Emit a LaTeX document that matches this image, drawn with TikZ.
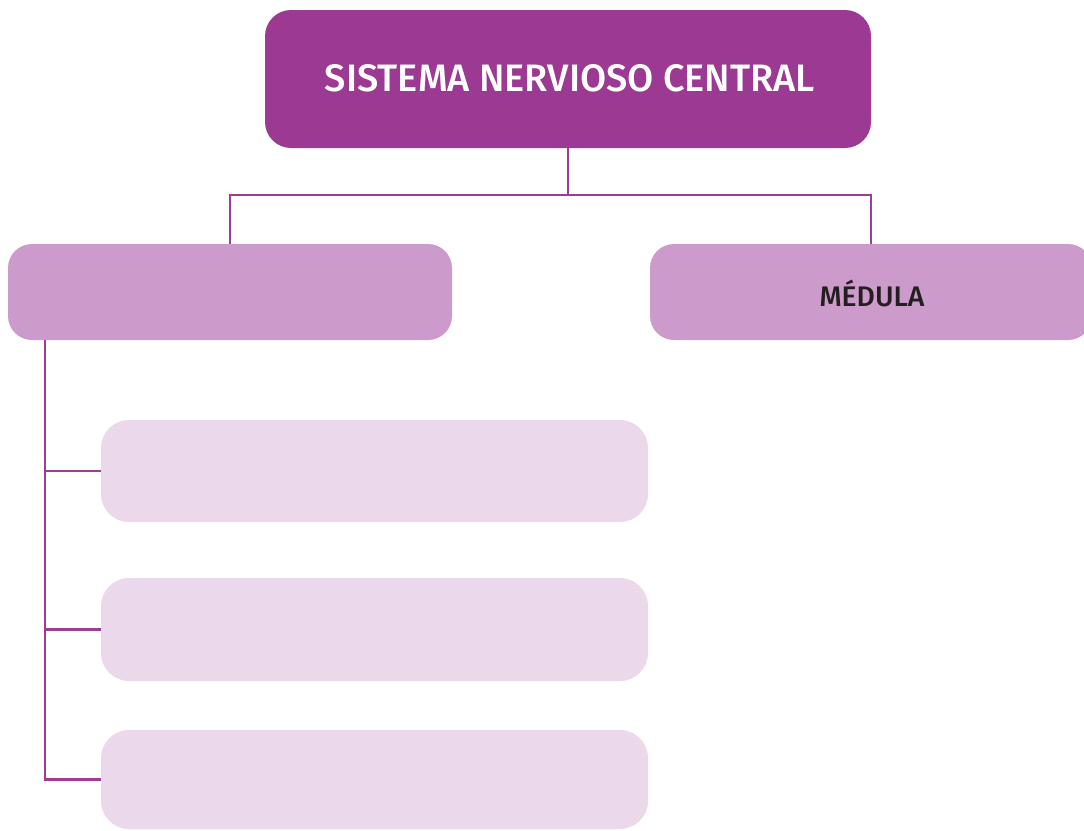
\documentclass[tikz,border=0pt]{standalone}
\usepackage{fontspec}
\setmainfont{Fira Sans}
\newfontfamily\medfont{Fira Sans Medium}
\usepackage{graphicx}
\definecolor{darkpurple}{HTML}{9C3A93}
\definecolor{midpurple}{HTML}{CC9BCB}
\definecolor{lightpurple}{HTML}{EBD9EB}
\definecolor{linepurple}{HTML}{9E3C97}
\definecolor{textdark}{HTML}{231F20}
\tikzset{
  topbox/.style={fill=darkpurple, draw=none, rounded corners=26pt, minimum width=606pt, minimum height=138pt, inner sep=0pt, text=white},
  midbox/.style={fill=midpurple, draw=none, rounded corners=24pt, minimum height=96pt, inner sep=0pt, text=textdark},
  lightbox/.style={fill=lightpurple, draw=none, rounded corners=28pt, minimum width=547pt, inner sep=0pt},
  conn/.style={draw=linepurple, line width=2.2pt}
}
\begin{document}
\begin{tikzpicture}[x=1pt,y=-1pt]
\useasboundingbox (0,0) rectangle (1084,830);
\node[topbox] (top) at (568,79) {};
\node[text=white] (title) at (570,78) {\resizebox{490pt}{27pt}{\medfont SISTEMA NERVIOSO CENTRAL}};
\node[midbox, minimum width=444pt] (left) at (230,292) {};
\node[midbox, minimum width=442pt] (right) at (871,292) {};
\node[text=textdark] (med) at (872,293) {\resizebox{105pt}{!}{\medfont MÉDULA}};
\node[lightbox, minimum height=102pt] (l1) at (374.5,471) {};
\node[lightbox, minimum height=103pt] (l2) at (374.5,629.5) {};
\node[lightbox, minimum height=99pt] (l3) at (374.5,779.5) {};
\coordinate (bus) at (568,195);
\coordinate (trunk) at (45,340);
\draw[conn] (top.south) -- (bus);
\draw[conn] (left.north) |- (bus) -| (right.north);
\draw[conn] (trunk) |- (l3.west);
\draw[conn] (trunk |- l1.west) -- (l1.west);
\draw[conn] (trunk |- l2.west) -- (l2.west);
\end{tikzpicture}
\end{document}
